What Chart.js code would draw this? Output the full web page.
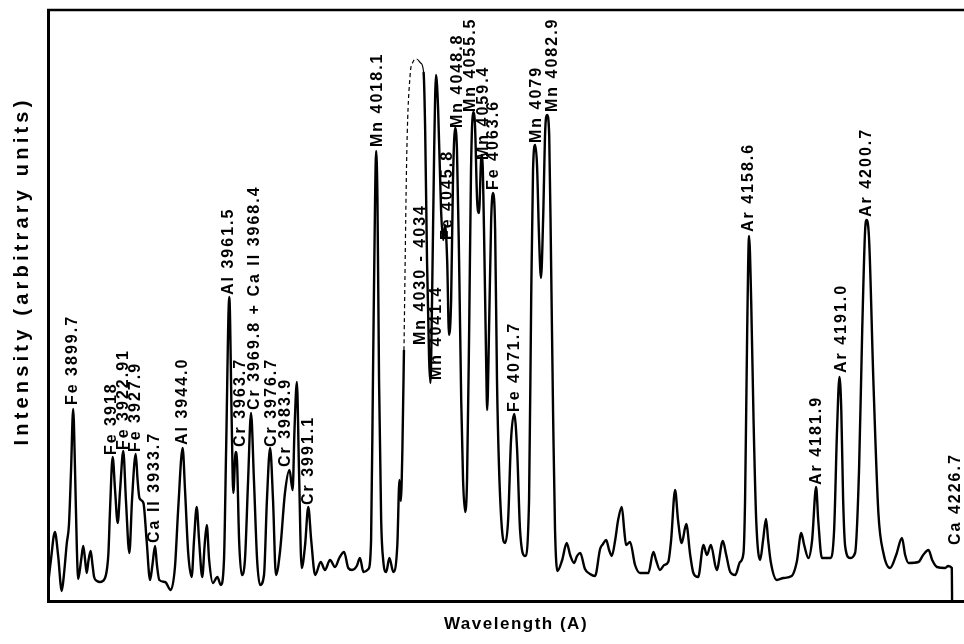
<!DOCTYPE html>
<html><head><meta charset="utf-8">
<script src="https://cdn.jsdelivr.net/npm/chart.js@4.4.1/dist/chart.umd.min.js"></script>
<style>html,body{margin:0;padding:0;background:#fff}canvas{display:block}</style>
</head><body>
<canvas id="c" width="964" height="644"></canvas>
<script>
// Recorded emission spectrum (wavelength in Angstrom, intensity in arbitrary units)
const wavelength = [3890.3,3891.4,3892.9,3894.1,3895.5,3896.3,3897.4,3898.2,3899.0,3899.8,3900.5,3901.2,3901.7,3902.8,3903.6,3904.3,3904.9,3905.6,3906.4,3907.1,3907.7,3908.8,3909.9,3911.8,3912.6,3913.1,3913.7,3914.7,3915.6,3916.6,3917.5,3918.7,3919.7,3921.0,3922.0,3923.4,3924.1,3924.8,3926.3,3927.5,3928.8,3929.7,3930.7,3931.4,3932.3,3934.5,3936.6,3938.2,3939.4,3941.1,3942.0,3943.2,3944.5,3945.4,3946.4,3947.3,3948.5,3949.4,3950.2,3951.1,3952.5,3954.2,3955.5,3956.7,3957.5,3958.7,3959.6,3960.2,3961.1,3961.6,3962.4,3963.4,3964.6,3965.8,3966.9,3968.0,3969.2,3970.3,3971.8,3972.9,3974.1,3975.2,3976.3,3977.9,3979.7,3981.4,3982.6,3983.3,3984.2,3985.0,3986.0,3987.3,3988.5,3989.6,3991.1,3993.2,3994.8,3996.7,3998.6,4000.2,4002.0,4003.6,4005.0,4006.8,4008.0,4009.3,4011.2,4012.2,4012.9,4013.7,4014.1,4014.6,4015.2,4016.0,4016.8,4017.9,4019.1,4020.6,4022.1,4022.9,4023.4,4024.0,4024.6,4025.7,4026.9,4028.0,4029.4,4030.9,4032.0,4032.6,4033.3,4034.1,4034.6,4035.2,4036.0,4036.7,4037.5,4038.6,4039.4,4040.1,4040.9,4041.6,4042.4,4043.1,4043.9,4044.6,4045.4,4046.2,4046.9,4047.7,4048.4,4049.2,4049.9,4050.7,4051.4,4052.2,4052.9,4053.7,4054.1,4054.8,4055.6,4056.0,4056.7,4057.5,4058.2,4059.0,4059.7,4060.5,4061.6,4062.8,4063.9,4065.0,4066.2,4067.3,4068.4,4070.3,4071.8,4072.6,4073.3,4074.1,4074.8,4075.6,4076.3,4077.1,4077.9,4078.6,4079.4,4080.1,4080.9,4081.6,4082.5,4084.3,4086.0,4087.3,4088.8,4089.9,4091.1,4092.9,4094.8,4096.7,4098.6,4099.7,4100.9,4102.0,4103.0,4104.3,4105.4,4106.8,4107.7,4108.4,4109.9,4111.8,4113.7,4116.8,4118.7,4119.7,4121.2,4122.8,4124.3,4125.4,4126.9,4128.0,4129.4,4131.1,4132.6,4133.8,4135.6,4137.6,4138.9,4140.4,4142.6,4144.9,4146.2,4147.7,4149.6,4151.4,4152.7,4153.3,4154.1,4154.8,4155.6,4156.5,4157.5,4159.0,4160.1,4161.2,4162.0,4163.0,4165.3,4167.8,4170.9,4172.8,4174.5,4175.6,4177.2,4178.6,4180.1,4180.9,4182.3,4185.4,4186.9,4188.0,4188.9,4189.6,4190.3,4191.1,4192.9,4194.8,4196.3,4197.5,4198.6,4199.2,4200.1,4201.7,4203.6,4205.5,4208.0,4210.3,4212.5,4213.7,4215.0,4218.7,4220.5,4222.5,4223.9,4225.7,4228.8,4229.9,4231.3,4231.4];
const intensity = [16,41,69,46,10,26,58,76,131,192,131,51,22,41,55,41,28,41,50,36,24,20,19,23,33,48,91,144,111,78,111,150,101,48,101,147,121,103,98,61,21,36,55,36,21,19,11,34,91,153,111,48,24,61,94,61,24,56,76,41,18,24,16,41,151,304,181,108,149,141,61,26,41,121,188,121,41,16,26,101,153,101,26,51,108,131,111,171,219,131,33,56,94,61,26,39,31,41,34,43,49,33,31,35,43,29,32,61,221,401,450,401,221,81,40,29,43,29,56,121,100,150,251,452,525,539,542,538,529,471,341,241,218,301,451,526,491,391,361,376,341,266,301,421,473,451,341,201,121,89,121,271,431,489,476,401,388,441,446,371,241,191,271,381,408,371,221,131,71,58,81,161,187,151,71,45,101,301,431,456,436,361,323,381,471,486,466,341,181,71,30,41,58,46,38,45,48,32,27,25,52,57,61,51,45,61,81,94,71,56,59,36,28,28,49,41,31,36,39,61,111,81,58,77,46,28,24,56,46,56,31,60,46,29,26,39,48,101,271,365,301,181,81,41,61,82,61,39,21,23,25,39,68,56,43,61,114,81,43,43,71,171,224,191,101,54,43,48,131,271,371,381,361,221,88,48,33,46,63,46,38,39,46,51,41,34,33,35,33,0];

// Line identifications: text, wavelength position of the label, intensity where the label starts
const lineNames = ['Fe 3899.7','Fe 3918','Fe 3922.91','Fe 3927.9','Ca II 3933.7','Al 3944.0','Al 3961.5','Cr 3963.7','Cr 3969.8 + Ca II 3968.4','Cr 3976.7','Cr 3983.9','Cr 3991.1','Mn 4018.1','Mn 4030 - 4034','Mn 4041.4','Fe 4045.8','Mn 4048.8','Mn 4055.5','Mn 4059.4','Fe 4063.6','Fe 4071.7','Mn 4079','Mn 4082.9','Ar 4158.6','Ar 4181.9','Ar 4191.0','Ar 4200.7','Ca 4226.7'];
const lineX = [3899.7,3914.2,3919.0,3923.5,3930.7,3941.2,3958.6,3962.8,3968.4,3974.8,3980.1,3988.8,4014.5,4030.7,4037.1,4040.9,4045.0,4049.6,4054.5,4058.6,4066.5,4074.5,4080.5,4154.8,4180.1,4189.6,4199.0,4232.6];
const lineY = [196,146,151,149,58,156,306,154,191,154,134,96,454,256,221,361,473,489,441,411,189,458,489,369,116,228,384,56];

const xTitle = 'Wavelength (A)';
const yTitle = 'Intensity (arbitrary units)';

const points = wavelength.map((w, i) => ({x: w, y: intensity[i]}));

const annotate = {
  id: 'annotate',
  afterDraw(chart) {
    const {ctx, chartArea: a} = chart;
    const sx = chart.scales.x, sy = chart.scales.y;
    ctx.save();
    ctx.strokeStyle = '#000';
    ctx.lineWidth = 2.5;
    ctx.beginPath();
    ctx.moveTo(a.left - 1, a.top);
    ctx.lineTo(a.right, a.top);
    ctx.stroke();

    ctx.fillStyle = '#000';
    ctx.letterSpacing = '2px';
    ctx.font = 'bold 16px "Liberation Sans", Arial, sans-serif';
    ctx.textAlign = 'left';
    ctx.textBaseline = 'middle';
    lineNames.forEach((t, i) => {
      const px = sx.getPixelForValue(lineX[i]);
      const py = sy.getPixelForValue(lineY[i]);
      ctx.save();
      ctx.translate(px, py);
      ctx.rotate(-Math.PI / 2);
      ctx.fillText(t, 0, 0);
      ctx.restore();
    });

    ctx.textAlign = 'center';
    ctx.font = 'bold 17px "Liberation Sans", Arial, sans-serif';
    ctx.letterSpacing = '1.5px';
    ctx.fillText(xTitle, 516, 624);
    ctx.font = 'bold 20px "Liberation Sans", Arial, sans-serif';
    ctx.letterSpacing = '4.2px';
    ctx.save();
    ctx.translate(22, 271);
    ctx.rotate(-Math.PI / 2);
    ctx.fillText(yTitle, 0, 0);
    ctx.restore();
    ctx.restore();
  }
};

new Chart(document.getElementById('c'), {
  type: 'line',
  data: {
    datasets: [{
      data: points,
      borderColor: '#000',
      borderWidth: 2.4,
      pointRadius: 0,
      fill: false,
      cubicInterpolationMode: 'monotone',
      segment: {
        borderDash: c => (c.p0.parsed.x >= 4024.6 && c.p1.parsed.x <= 4029.4) ? [4, 3] : undefined,
        borderWidth: c => (c.p0.parsed.x >= 4024.6 && c.p1.parsed.x <= 4032.0) ? 1.2 : undefined
      }
    }]
  },
  options: {
    responsive: false,
    animation: false,
    layout: {padding: {top: 10, left: 0, right: 0, bottom: 0}},
    plugins: {legend: {display: false}, tooltip: {enabled: false}},
    scales: {
      x: {
        type: 'linear', min: 3890.3, max: 4235.9,
        ticks: {display: false},
        grid: {display: false, drawTicks: false},
        border: {display: true, color: '#000', width: 3},
        afterFit: s => { s.height = 43; }
      },
      y: {
        type: 'linear', min: 0, max: 591,
        ticks: {display: false},
        grid: {display: false, drawTicks: false},
        border: {display: true, color: '#000', width: 3},
        afterFit: s => { s.width = 48; }
      }
    }
  },
  plugins: [annotate]
});
</script>
</body></html>
